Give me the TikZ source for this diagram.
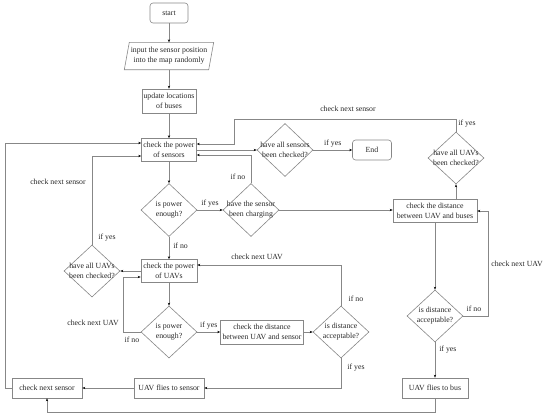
\documentclass[tikz,border=0pt]{standalone}
\usepackage{fontspec}
\setmainfont{Liberation Serif}
\usetikzlibrary{shapes.geometric,arrows.meta,calc}
\definecolor{lc}{RGB}{135,135,135}
\definecolor{tc}{RGB}{40,40,40}
\begin{document}
\begin{tikzpicture}[x=1pt,y=-1pt,
  every node/.style={font=\fontsize{7.8}{10}\selectfont, text=tc, align=center},
  box/.style={draw=lc, line width=0.6pt, inner sep=1pt},
  rbox/.style={box, rounded corners=3pt},
  dia/.style={diamond, draw=lc, line width=0.6pt, inner sep=0pt, minimum width=56pt, minimum height=53pt},
  lbl/.style={inner sep=0pt},
  arr/.style={draw=lc, line width=0.6pt, -{Stealth[length=3pt,width=2.4pt,color=black]}}]
\useasboundingbox (0,0) rectangle (550,418);
% nodes
\node[rbox, minimum width=38pt, minimum height=20pt] (start) at (169,13) {start};
\node[minimum width=84pt, minimum height=27pt, inner sep=0pt] (inp) at (169,56) {input the sensor position\\into the map randomly};
\draw[draw=lc, line width=0.6pt] ($(inp.south west)+(-2.5,0)$) -- ($(inp.south east)+(-2.5,0)$) -- ($(inp.north east)+(2.5,0)$) -- ($(inp.north west)+(2.5,0)$) -- cycle;
\node[box, minimum width=54pt, minimum height=24pt] (upd) at (169,101) {update locations\\of buses};
\node[box, minimum width=55pt, minimum height=23pt] (chks) at (169,150) {check the power\\of sensors};
\node[dia, label={[lbl]center:have all sensors\\been checked?}] (dAll) at (285,150) {};
\node[rbox, minimum width=39pt, minimum height=20pt] (endn) at (372,150) {End};
\node[dia, label={[lbl]center:is power\\enough?}] (dPow) at (169,210) {};
\node[dia, label={[lbl]center:have the sensor\\been charging}] (dChg) at (251,210) {};
\node[dia, minimum height=52pt, label={[lbl]center:have all UAVs\\been checked?}] (dUavB) at (456,158) {};
\node[box, minimum width=84pt, minimum height=23pt] (distB) at (435,211) {check the distance\\between UAV and buses};
\node[dia, minimum height=52pt, label={[lbl]center:is distance\\acceptable?}] (dDistB) at (435,316) {};
\node[box, minimum width=66pt, minimum height=20pt] (flyB) at (435,388) {UAV flies to bus};
\node[box, minimum width=70pt, minimum height=20pt] (nextS) at (47,388) {check next sensor};
\node[box, minimum width=70pt, minimum height=20pt] (flyS) at (169,388) {UAV flies to sensor};
\node[box, minimum width=56pt, minimum height=23pt] (chkU) at (169,271) {check the power\\of UAVs};
\node[dia, minimum height=52pt, label={[lbl]center:have all UAVs\\been checked?}] (dUavL) at (92,271) {};
\node[dia, minimum height=52pt, label={[lbl]center:is power\\enough?}] (dPowU) at (169,332) {};
\node[box, minimum width=83pt, minimum height=24pt] (distS) at (262,332) {check the distance\\between UAV and sensor};
\node[dia, minimum height=52pt, label={[lbl]center:is distance\\acceptable?}] (dDistS) at (341,332) {};
% coordinates
\coordinate (cTopR) at (456,119);
\coordinate (cTopL) at (234,119);
\coordinate (cBot) at (435,412);
\coordinate (cBotL) at (47,412);
\coordinate (cLeft) at (5,388);
\coordinate (cRight) at (488,316);
% connectors
\draw[arr] (start) -- (inp);
\draw[arr] (inp) -- (upd);
\draw[arr] (upd) -- (chks);
\draw[arr] (chks.east) -- (dAll.west);
\draw[arr] (dAll.east) -- node[lbl, above=3pt] (l1) {if yes} (endn.west);
\draw[arr] (chks) -- (dPow);
\draw[arr] (dPow.east) -- node[lbl, above=3pt] (l2) {if yes} (dChg.west);
\draw[arr] (dChg.north) |- ($(chks.east)+(0,5)$);
\node[lbl] (l3) at (238,177) {if no};
\draw[arr] (dChg.east) -- (distB.west |- dChg.east);
\draw[arr] (dUavB.south |- distB.north) -- (dUavB.south);
\draw[arr] (dUavB.north) -- (cTopR) -- (cTopL) |- ($(chks.east)+(0,-6)$);
\node[lbl] (l4) at (467,124) {if yes};
\node[lbl] (l5) at (348,109) {check next sensor};
\draw[arr] (distB.south -| dDistB.north) -- (dDistB.north);
\draw[arr] (dDistB.east) -- (cRight) |- (distB.east);
\node[lbl] (l6) at (474,309) {if no};
\node[lbl] (l7) at (517,264) {check next UAV};
\draw[arr] (dDistB.south) -- node[lbl, right=4pt, pos=0.2] (l8) {if yes} (flyB.north);
\draw[arr] (flyB.south) -- (cBot) -- (cBotL) -- (nextS.south);
\draw[arr] (nextS.west) -- (cLeft) |- ($(chks.west)+(0,-7)$);
\draw[arr] (flyS.west) -- (nextS.east);
\draw[arr] (dPow.south) -- node[lbl, right=4pt, pos=0.4] (l9) {if no} (chkU.north);
\draw[arr] (chkU.west) -- (dUavL.east);
\draw[arr] (dUavL.north) |- ($(chks.west)+(0,6)$);
\node[lbl] (l10) at (107,238) {if yes};
\node[lbl] (l11) at (58,182) {check next sensor};
\draw[arr] (chkU) -- (dPowU);
\draw[arr] (dPowU.west) -- (123,332) |- ($(chkU.west)+(0,6)$);
\node[lbl] (l12) at (132,340) {if no};
\node[lbl] (l13) at (93,323) {check next UAV};
\draw[arr] (dPowU.east) -- node[lbl, above=3pt] (l14) {if yes} (distS.west);
\draw[arr] (distS.east) -- (dDistS.west);
\draw[arr] (dDistS.north) |- ($(chkU.east)+(0,-6)$);
\node[lbl] (l15) at (257,257) {check next UAV};
\node[lbl] (l16) at (356,299) {if no};
\draw[arr] (dDistS.south) |- (flyS.east);
\node[lbl] (l17) at (356,368) {if yes};
\end{tikzpicture}
\end{document}
